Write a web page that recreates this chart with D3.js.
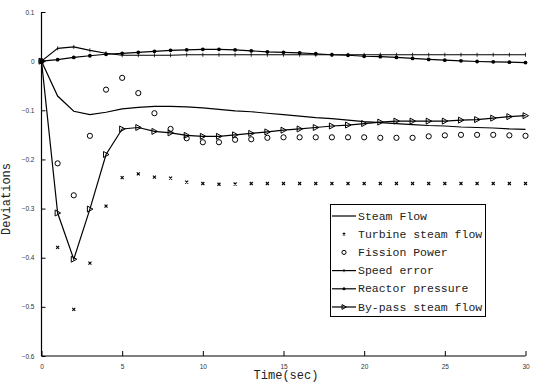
<!DOCTYPE html>
<html><head><meta charset="utf-8">
<script src="https://cdn.jsdelivr.net/npm/d3@7"></script>
<style>body{margin:0;background:#fff}svg{display:block}</style>
</head><body>
<svg id="c" width="534" height="383"></svg>
<script>
const time = d3.range(0, 31);
const steamFlow = [0,-0.071,-0.102,-0.109,-0.104,-0.097,-0.094,-0.092,-0.092,-0.093,-0.095,-0.098,-0.101,-0.103,-0.106,-0.109,-0.112,-0.115,-0.117,-0.120,-0.123,-0.125,-0.127,-0.129,-0.131,-0.132,-0.134,-0.135,-0.136,-0.138,-0.139];
const turbineSteamFlow = [0,-0.379,-0.505,-0.411,-0.295,-0.237,-0.2295,-0.236,-0.238,-0.246,-0.249,-0.2505,-0.25,-0.249,-0.249,-0.249,-0.249,-0.249,-0.249,-0.249,-0.249,-0.249,-0.249,-0.249,-0.249,-0.249,-0.249,-0.249,-0.249,-0.249,-0.249];
const fissionPower = [0,-0.208,-0.273,-0.152,-0.058,-0.034,-0.065,-0.106,-0.138,-0.157,-0.165,-0.165,-0.160,-0.159,-0.156,-0.155,-0.155,-0.155,-0.155,-0.155,-0.155,-0.156,-0.156,-0.156,-0.153,-0.151,-0.150,-0.150,-0.150,-0.151,-0.152];
const speedError = [0,0.026,0.029,0.022,0.016,0.012,0.012,0.012,0.012,0.013,0.013,0.013,0.013,0.013,0.013,0.013,0.013,0.013,0.013,0.013,0.013,0.013,0.013,0.013,0.013,0.013,0.013,0.013,0.013,0.013,0.013];
const reactorPressure = [0,0.003,0.0075,0.011,0.014,0.016,0.018,0.020,0.022,0.023,0.024,0.024,0.023,0.021,0.019,0.018,0.017,0.015,0.013,0.012,0.010,0.009,0.0075,0.0055,0.0035,0.002,0.0006,-0.0007,-0.0014,-0.002,-0.003];
const bypassSteamFlow = [0,-0.309,-0.403,-0.301,-0.19,-0.138,-0.135,-0.143,-0.146,-0.151,-0.153,-0.153,-0.150,-0.147,-0.144,-0.1405,-0.138,-0.135,-0.132,-0.130,-0.127,-0.124,-0.122,-0.122,-0.122,-0.122,-0.120,-0.119,-0.116,-0.113,-0.111];
const xTicks = [0,5,10,15,20,25,30];
const yTicks = [0.1,0,-0.1,-0.2,-0.3,-0.4,-0.5,-0.6];
const legendLabels = ["Steam Flow","Turbine steam flow","Fission Power","Speed error","Reactor pressure","By-pass steam flow"];

const svg = d3.select("#c");
const x = d3.scaleLinear().domain([0,30]).range([41.5,525.5]);
const y = d3.scaleLinear().domain([-0.6,0.1]).range([356,12]);

const xAxis = d3.axisBottom(x).tickValues(xTicks).tickSize(-5).tickPadding(8).tickFormat(d3.format("d"));
const gx = svg.append("g").attr("transform","translate(0,356)").call(xAxis);
const yAxis = d3.axisLeft(y).tickValues(yTicks).tickSize(-4).tickPadding(7).tickFormat(d => d===0 ? "0" : d3.format(".1f")(d));
const gy = svg.append("g").attr("transform","translate(41.5,0)").call(yAxis);
[gx,gy].forEach(g=>{
  g.select(".domain").attr("stroke","#000").attr("stroke-width",1.2);
  g.selectAll(".tick line").attr("stroke","#000").attr("stroke-width",1);
  g.selectAll(".tick text").attr("font-family","Liberation Sans, Arial, sans-serif").attr("font-size",6.5).attr("fill","#333");
});
gx.select(".domain").attr("d","M41.5,0H525.5");
gy.select(".domain").attr("d","M0,12V356");

const mono = "Liberation Mono, Courier New, monospace";
svg.append("text").attr("x",286).attr("y",379).attr("text-anchor","middle")
  .attr("font-family",mono).attr("font-size",12).attr("fill","#222").text("Time(sec)");
svg.append("text").attr("transform","translate(10,199) rotate(-90)").attr("text-anchor","middle")
  .attr("font-family",mono).attr("font-size",12).attr("fill","#222").text("Deviations");

const line = d3.line().x((d,i)=>x(time[i])).y(d=>y(d));
const plot = svg.append("g");
function drawLine(arr){
  plot.append("path").attr("d",line(arr)).attr("fill","none").attr("stroke","#000").attr("stroke-width",1.2);
}
drawLine(steamFlow);
drawLine(speedError);
drawLine(reactorPressure);
drawLine(bypassSteamFlow);

function marker(g, type, cx, cy, s){
  s = s || 1;
  if(type==="x"){
    const h = 1.5*s;
    g.append("path").attr("d",`M${cx-h},${cy-h}L${cx+h},${cy+h}M${cx-h},${cy+h}L${cx+h},${cy-h}`)
      .attr("stroke","#000").attr("stroke-width",1.1);
  } else if(type==="o"){
    g.append("circle").attr("cx",cx).attr("cy",cy).attr("r",2.6*s).attr("fill","none").attr("stroke","#000").attr("stroke-width",1);
  } else if(type==="+"){
    g.append("path").attr("d",`M${cx},${cy-2*s}L${cx},${cy+2*s}`).attr("stroke","#000").attr("stroke-width",0.8);
  } else if(type==="dot"){
    g.append("circle").attr("cx",cx).attr("cy",cy).attr("r",1.9*s).attr("fill","#000");
  } else if(type==="tri"){
    g.append("path").attr("d",`M${cx-2.5*s},${cy-3*s}L${cx+3*s},${cy}L${cx-2.5*s},${cy+3*s}Z`)
      .attr("fill","none").attr("stroke","#000").attr("stroke-width",1);
  }
}
function drawMarkers(arr,type){
  const g = plot.append("g");
  arr.forEach((v,i)=>marker(g,type,x(time[i]),y(v)));
}
drawMarkers(turbineSteamFlow,"x");
drawMarkers(fissionPower,"o");
drawMarkers(speedError,"+");
drawMarkers(reactorPressure,"dot");
drawMarkers(bypassSteamFlow,"tri");

const lg = svg.append("g");
lg.append("rect").attr("x",330.5).attr("y",204.5).attr("width",155).attr("height",112)
  .attr("fill","#fff").attr("stroke","#000").attr("stroke-width",1);
const types = ["line","x","o","+","dot","tri"];
legendLabels.forEach((lab,i)=>{
  const yy = 216 + i*18.2;
  const t = types[i];
  if(t!=="x" && t!=="o"){
    lg.append("path").attr("d",`M332,${yy}H356`).attr("stroke","#000").attr("stroke-width",1.2);
  }
  if(t!=="line") marker(lg, t, 344, yy, 0.8);
  lg.append("text").attr("x",358).attr("y",yy+3.5).attr("font-family",mono).attr("font-size",11.5).attr("fill","#222").text(lab);
});
</script>
</body></html>
